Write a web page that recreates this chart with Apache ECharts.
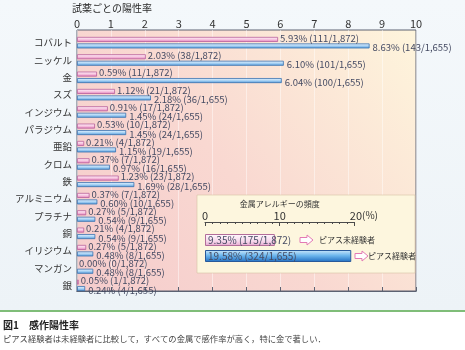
<!DOCTYPE html>
<html><head><meta charset="utf-8">
<script src="https://cdn.jsdelivr.net/npm/echarts@6/dist/echarts.min.js"></script>
<style>
html,body{margin:0;padding:0;background:#fff;}
#c{width:465px;height:350px;background:linear-gradient(to bottom,#f4f8fb 0px,#edf3f7 310px,#ffffff 310px);}
</style></head><body><div id="c"></div>
<script>
// ---- data ----
const categories = ['コバルト','ニッケル','金','スズ','インジウム','パラジウム','亜鉛','クロム','鉄','アルミニウム','プラチナ','銅','イリジウム','マンガン','銀'];
const nonPierced = [5.93, 2.03, 0.59, 1.12, 0.91, 0.53, 0.21, 0.37, 1.23, 0.37, 0.27, 0.21, 0.27, 0.00, 0.05];
const nonPiercedCounts = ['111/1,872','38/1,872','11/1,872','21/1,872','17/1,872','10/1,872','4/1,872','7/1,872','23/1,872','7/1,872','5/1,872','4/1,872','5/1,872','0/1,872','1/1,872'];
const pierced = [8.63, 6.10, 6.04, 2.18, 1.45, 1.45, 1.15, 0.97, 1.69, 0.60, 0.54, 0.54, 0.48, 0.48, 0.24];
const piercedCounts = ['143/1,655','101/1,655','100/1,655','36/1,655','24/1,655','24/1,655','19/1,655','16/1,655','28/1,655','10/1,655','9/1,655','9/1,655','8/1,655','8/1,655','4/1,655'];
const allergyGroups = ['ピアス未経験者','ピアス経験者'];
const allergyRate = [9.35, 19.58];
const allergyCounts = ['175/1,872','324/1,655'];

const FONT = '"Noto Sans CJK JP","Noto Sans",sans-serif';
const lin = (stops) => ({type:'linear', x:0, y:0, x2:0, y2:1, colorStops:stops});
const pinkFill = lin([{offset:0,color:'#fff6fb'},{offset:0.5,color:'#f7c6e0'},{offset:1,color:'#e27cb8'}]);
const blueFill = lin([{offset:0,color:'#eef7ff'},{offset:0.5,color:'#a8d2f4'},{offset:1,color:'#4c95d8'}]);
const pinkInset = lin([{offset:0,color:'#fffafd'},{offset:0.6,color:'#f6d8ec'},{offset:1,color:'#e4a4cc'}]);
const blueInset = lin([{offset:0,color:'#cfe9fb'},{offset:0.45,color:'#6fb8ee'},{offset:1,color:'#1f6cc0'}]);
const LABEL_COLOR = '#454b63';

const chart = echarts.init(document.getElementById('c'), null, {renderer:'canvas'});

function arrow(x0, y){
  return {type:'polygon', z:6, shape:{points:[[x0,y-2.5],[x0+7,y-2.5],[x0+7,y-5],[x0+13,y],[x0+7,y+5],[x0+7,y+2.5],[x0,y+2.5]]},
    style:{fill:'#fff', stroke:'#e37ab4', lineWidth:1}};
}

const option = {
  backgroundColor:'transparent',
  textStyle:{fontFamily:FONT},
  animation:false,
  title:{text:'試薬ごとの陽性率', left:72, top:3, padding:0, textStyle:{fontSize:10, fontWeight:'normal', color:'#2a2a2a', fontFamily:FONT}},
  grid:[
    {left:77, top:30, width:339, height:261, show:true, borderColor:'#5c6272', borderWidth:1,
     backgroundColor:{type:'linear', x:0, y:1, x2:1, y2:0, colorStops:[{offset:0,color:'#f5cccc'},{offset:0.45,color:'#f9d8d1'},{offset:1,color:'#fef5dc'}]}},
    {left:77, top:34, width:339, height:260},
    {left:205, top:232, width:149.4, height:32}
  ],
  xAxis:[
    {gridIndex:0, type:'value', position:'top', min:0, max:10, interval:1,
     axisLine:{show:true, lineStyle:{color:'#5c6272'}}, axisTick:{show:true, length:4, lineStyle:{color:'#5c6272'}},
     axisLabel:{fontSize:11, color:'#333', margin:1, fontFamily:FONT},
     splitLine:{show:true, lineStyle:{color:'rgba(255,255,255,0.45)', width:1}}},
    {gridIndex:0, type:'value', position:'bottom', min:0, max:10, interval:1,
     axisLine:{show:true, lineStyle:{color:'#5c6272'}}, axisTick:{show:true, inside:true, length:3, lineStyle:{color:'#5c6272'}},
     axisLabel:{show:false}, splitLine:{show:false}},
    {gridIndex:1, type:'value', min:0, max:10, show:false},
    {gridIndex:2, type:'value', position:'top', offset:10, min:0, max:20, interval:10, z:5,
     name:'金属アレルギーの頻度', nameLocation:'middle', nameGap:14,
     nameTextStyle:{fontSize:8, color:'#333', fontFamily:FONT},
     axisLine:{show:true, lineStyle:{color:'#4a4a4a', width:1}},
     axisTick:{show:true, inside:true, length:4, lineStyle:{color:'#4a4a4a'}},
     minorTick:{show:true, splitNumber:10, length:2, lineStyle:{color:'#4a4a4a'}},
     axisLabel:{fontSize:11, color:'#333', margin:1, fontFamily:FONT,
       formatter:v => v===20 ? '{pad|}{n|20}{p|(%)}' : '{n|'+v+'}',
       rich:{pad:{width:19}, n:{fontSize:11, color:'#333', fontFamily:FONT}, p:{fontSize:10, color:'#333', fontFamily:FONT}}},
     splitLine:{show:false}}
  ],
  yAxis:[
    {gridIndex:0, type:'value', show:false},
    {gridIndex:1, type:'category', data:categories, inverse:true,
     axisLine:{show:false}, axisTick:{show:false},
     axisLabel:{fontSize:9.5, color:'#333', margin:5, fontFamily:FONT}},
    {gridIndex:2, type:'category', data:allergyGroups, inverse:true, show:false}
  ],
  series:[
    {type:'bar', name:'ピアス未経験者', xAxisIndex:2, yAxisIndex:1,
     data:nonPierced.map(v => v===0 ? {value:v, itemStyle:{borderWidth:0}} : v),
     barWidth:5, barGap:'30%',
     itemStyle:{color:pinkFill, borderColor:'#b9609a', borderWidth:0.8},
     label:{show:true, position:'right', distance:2, offset:[0,-1.5], fontSize:9.5, color:LABEL_COLOR, fontFamily:FONT,
       formatter:p => nonPierced[p.dataIndex].toFixed(2)+'% ('+nonPiercedCounts[p.dataIndex]+')'}},
    {type:'bar', name:'ピアス経験者', xAxisIndex:2, yAxisIndex:1,
     data:pierced, barWidth:5, barGap:'30%',
     itemStyle:{color:blueFill, borderColor:'#3a72b0', borderWidth:0.8},
     label:{show:true, position:'right', distance:3, offset:[0,1.5], fontSize:9.5, color:LABEL_COLOR, fontFamily:FONT,
       formatter:p => pierced[p.dataIndex].toFixed(2)+'% ('+piercedCounts[p.dataIndex]+')'}},
    {type:'bar', xAxisIndex:3, yAxisIndex:2, z:5, barWidth:12,
     data:[{value:allergyRate[0], itemStyle:{color:pinkInset, borderColor:'#b26d9a', borderWidth:1}},
           {value:allergyRate[1], itemStyle:{color:blueInset, borderColor:'#28599a', borderWidth:1}}],
     label:{show:true, position:'insideLeft', distance:3, fontSize:10, color:LABEL_COLOR, fontFamily:FONT,
       formatter:p => allergyRate[p.dataIndex].toFixed(2)+'% ('+allergyCounts[p.dataIndex]+')'}}
  ],
  graphic:[
    {type:'rect', z:1, shape:{x:197, y:195, width:218, height:78}, style:{fill:'#fdf6de', stroke:'rgba(215,195,165,0.6)', lineWidth:1}},
    arrow(300, 240),
    {type:'text', z:6, x:319, y:240, style:{text:allergyGroups[0], fontSize:8, fill:'#333', fontFamily:FONT, verticalAlign:'middle'}},
    arrow(355, 256),
    {type:'text', z:6, x:368, y:256, style:{text:allergyGroups[1], fontSize:8, fill:'#333', fontFamily:FONT, verticalAlign:'middle'}},
    {type:'line', z:1, shape:{x1:0, y1:311, x2:465, y2:311}, style:{stroke:'#7fbd78', lineWidth:2}},
    {type:'text', x:3, y:325, style:{text:'図1　感作陽性率', fontSize:10, fontWeight:'bold', fill:'#222', fontFamily:FONT, verticalAlign:'middle'}},
    {type:'text', x:3, y:339, style:{text:'ピアス経験者は未経験者に比較して，すべての金属で感作率が高く，特に金で著しい．', fontSize:8.3, fill:'#444', fontFamily:FONT, verticalAlign:'middle'}}
  ]
};
chart.setOption(option);
</script></body></html>
